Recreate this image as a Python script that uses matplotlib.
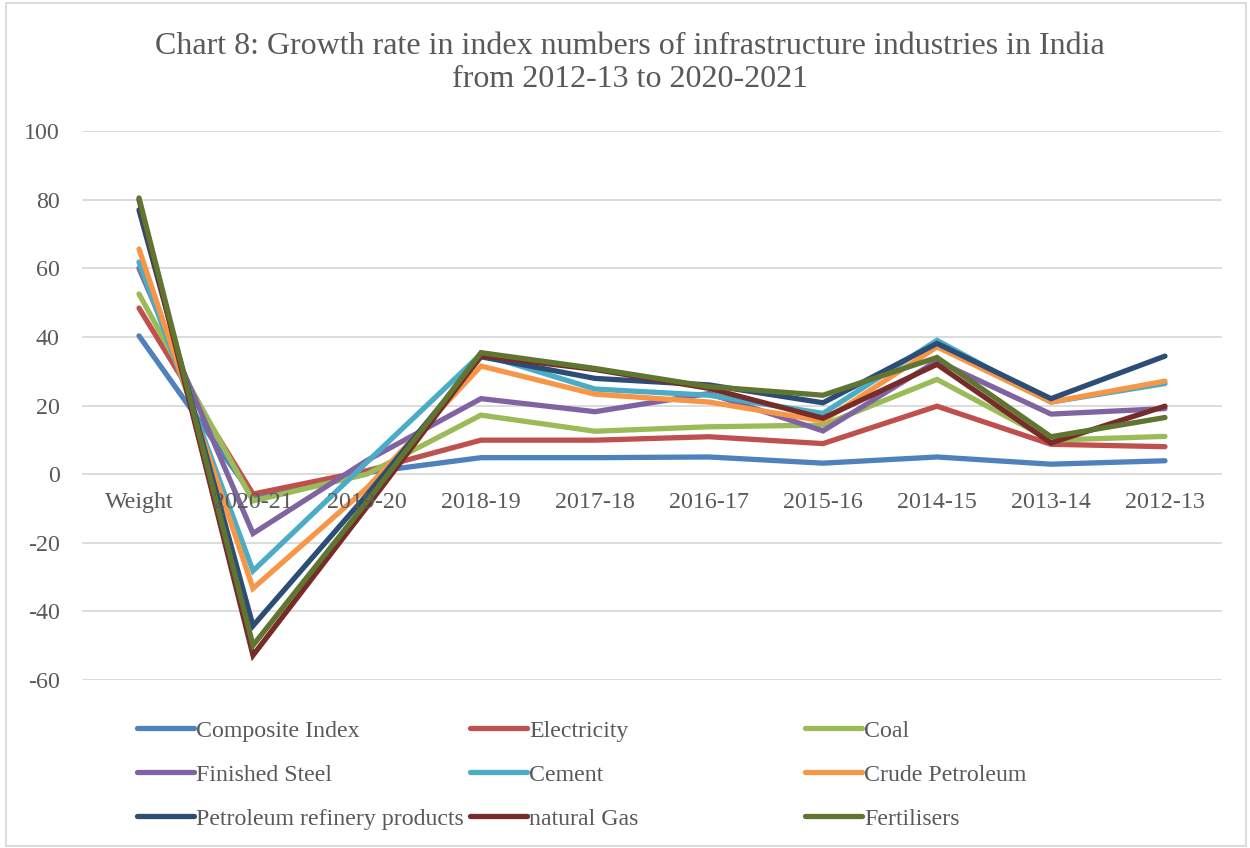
import matplotlib.pyplot as plt
from matplotlib.patches import Rectangle
import numpy as np

plt.rcParams["font.family"] = ["Liberation Serif", "DejaVu Serif"]
plt.rcParams["axes.unicode_minus"] = False

categories = ["Weight", "2020-21", "2019-20", "2018-19", "2017-18", "2016-17",
              "2015-16", "2014-15", "2013-14", "2012-13"]

composite = [40.3, -6.4, 0.5, 4.8, 4.8, 5.0, 3.2, 5.0, 2.9, 3.9]
electricity = [48.4, -5.8, 1.0, 9.9, 9.9, 10.9, 8.9, 19.8, 8.7, 8.0]
coal = [52.5, -7.8, 0.0, 17.2, 12.5, 13.8, 14.3, 27.6, 9.9, 11.0]
finished_steel = [60.0, -17.3, 4.0, 22.0, 18.2, 23.5, 12.6, 33.0, 17.5, 19.1]
cement = [61.8, -28.2, 3.5, 35.0, 24.8, 23.0, 17.7, 39.0, 21.0, 26.4]
crude_petroleum = [65.6, -33.3, -4.0, 31.5, 23.3, 21.0, 15.5, 37.1, 21.0, 27.1]
refinery = [77.0, -44.2, -6.0, 34.2, 27.9, 26.0, 20.8, 38.1, 22.0, 34.4]
natural_gas = [80.0, -52.8, -9.5, 34.5, 30.5, 25.0, 16.3, 32.0, 9.1, 19.8]
fertilisers = [80.5, -49.9, -8.0, 35.4, 30.8, 25.5, 23.0, 34.0, 10.9, 16.5]

series_names = ["Composite Index", "Electricity", "Coal", "Finished Steel", "Cement",
                "Crude Petroleum", "Petroleum refinery products", "natural Gas", "Fertilisers"]
series_values = [composite, electricity, coal, finished_steel, cement,
                 crude_petroleum, refinery, natural_gas, fertilisers]
colors = ["#4F81BD", "#C0504D", "#9BBB59", "#8064A2", "#4BACC6",
          "#F79646", "#2C4D75", "#772C2A", "#5F7530"]

text_color = "#595959"
x = np.arange(len(categories))

fig = plt.figure(figsize=(12.5, 8.48), dpi=100)
ax = fig.add_axes([0.0656, 0.1981, 0.912, 0.6474])

lines = []
for name, vals, c in zip(series_names, series_values, colors):
    ln, = ax.plot(x, vals, color=c, lw=3.8, solid_capstyle="round",
                  solid_joinstyle="miter", label=name)
    lines.append(ln)

ax.set_xlim(-0.5, len(categories) - 0.5)
ax.set_ylim(-60, 100)
ax.set_yticks(np.arange(-60, 101, 20))
ax.yaxis.grid(True, color="#D9D9D9", lw=1.3)
ax.set_axisbelow(True)
for s in ax.spines.values():
    s.set_visible(False)
ax.tick_params(axis="y", length=0, pad=16, labelsize=17.3, labelcolor=text_color)

# category labels sit just under the zero line, like Excel does
ax.set_xticks([])
for xi, lab in zip(x, categories):
    ax.text(xi, -8.2, lab, ha="center", va="center", fontsize=17.3, color=text_color)

fig.text(0.504, 1 - 63 / 848,
         "Chart 8: Growth rate in index numbers of infrastructure industries in India\n"
         "from 2012-13 to 2020-2021",
         ha="center", va="center", fontsize=23, color=text_color, linespacing=1.22)

col_x = [137, 470, 805]
for col in range(3):
    hs = [lines[i] for i in range(col, 9, 3)]
    leg = fig.legend(handles=hs, loc="upper left",
                     bbox_to_anchor=(col_x[col] / 1250, 1 - 720 / 848),
                     frameon=False, fontsize=17.2, borderpad=0, borderaxespad=0,
                     handlelength=2.4, handletextpad=0.08, labelspacing=0.93)
    for t in leg.get_texts():
        t.set_color(text_color)

fig.patches.append(Rectangle((6 / 1250, 2 / 848), 1240 / 1250, 843 / 848,
                             transform=fig.transFigure, fill=False,
                             edgecolor="#D9D9D9", lw=1.3))

fig.savefig("out.png", dpi=100)
